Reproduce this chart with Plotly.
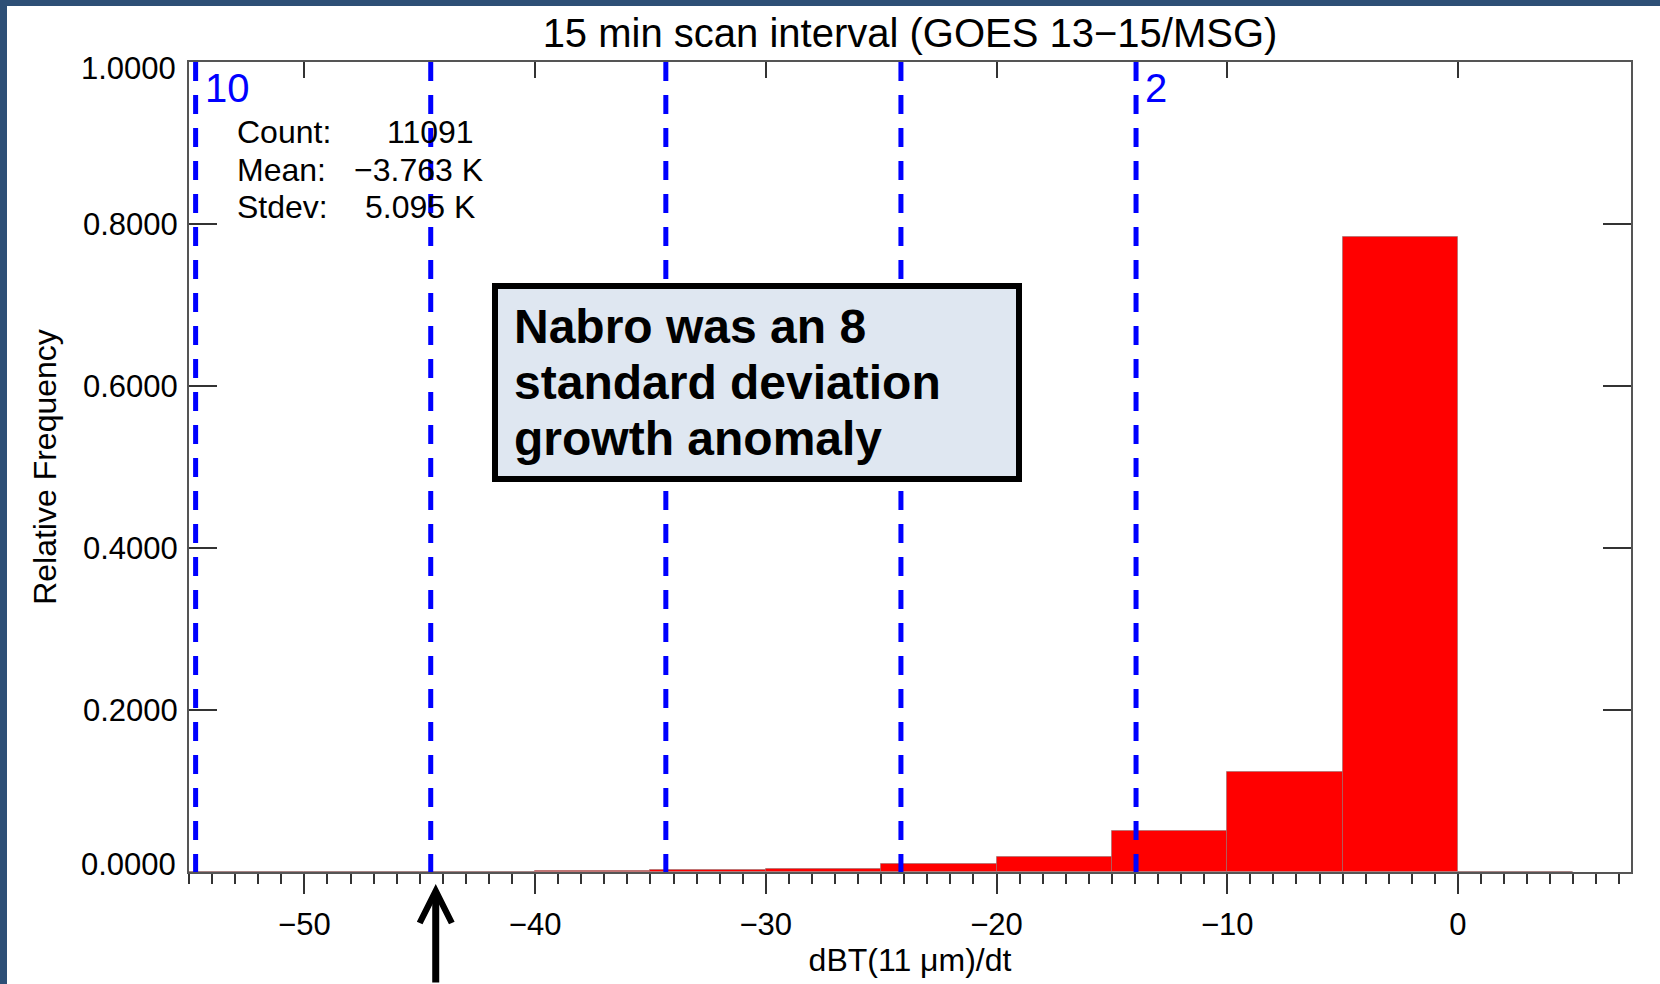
import plotly.graph_objects as go

# ---------------- data ----------------
bin_left = [-55, -50, -45, -40, -35, -30, -25, -20, -15, -10, -5, 0]
rel_freq = [0.0, 0.0003, 0.0005, 0.0012, 0.0022, 0.0042, 0.0100, 0.0185, 0.0512, 0.1240, 0.7840, 0.0002]
bin_width = 5
count = 11091
mean_k = -3.763
stdev_k = 5.095
sigma_levels = [2, 4, 6, 8, 10]
labelled_sigmas = [10, 2]
x_ticks = [-50, -40, -30, -20, -10, 0]
y_ticks = [0.0, 0.2, 0.4, 0.6, 0.8, 1.0]
anomaly_sigma = 8

# ---------------- geometry helpers ----------------
W, H = 1660, 984
L, R, T, B = 189, 29, 62, 112
PW, PH = W - L - R, H - T - B
FONT = "Liberation Sans, Arial, Helvetica, sans-serif"


def px(xp):
    return (xp - L) / PW


def py(yp):
    return (H - B - yp) / PH


fig = go.Figure()

fig.add_trace(go.Bar(
    x=[b + bin_width / 2 for b in bin_left], y=rel_freq, width=bin_width,
    marker=dict(color="#ff0000", line=dict(color="rgba(150,110,110,0.6)", width=1)),
    showlegend=False, hoverinfo="x+y",
))

sigma_x = [mean_k - n * stdev_k for n in sigma_levels]
for n, xv in zip(sigma_levels, sigma_x):
    fig.add_trace(go.Scatter(
        x=[xv, xv], y=[1, 0], mode="lines", xaxis="x2", yaxis="y",
        line=dict(color="#0000ff", width=5, dash="19px,14px"),
        showlegend=False, hoverinfo="skip",
    ))

annotations = []
for n in labelled_sigmas:
    xv = mean_k - n * stdev_k
    annotations.append(dict(
        x=xv, xref="x", y=py(88), yref="paper", text=str(n), showarrow=False,
        xanchor="left", yanchor="middle", xshift=7,
        font=dict(family=FONT, size=40, color="#0000ff"),
    ))

# end tick labels of the y axis sit slightly inside the frame (as in the original)
y_ticktext = ["" if v in (0.0, 1.0) else f"{v:.4f}" for v in y_ticks]
for v, shift in ((y_ticks[0], 8), (y_ticks[-1], -6)):
    annotations.append(dict(
        x=0, xref="paper", y=v, yref="y", text=f"{v:.4f}", showarrow=False,
        xanchor="right", yanchor="middle", xshift=-11, yshift=shift,
        font=dict(family=FONT, size=31, color="black"),
    ))

stat_labels = ["Count:", "Mean:", "Stdev:"]
stat_values = [f"{count:d}", f"{mean_k:.3f} K".replace("-", "\u2212"), f"{stdev_k:.3f} K"]
stat_val_x = [387, 354, 365]
stat_y = [132, 170, 207]
for lab, val, vx, sy in zip(stat_labels, stat_values, stat_val_x, stat_y):
    annotations.append(dict(x=px(235), xref="paper", y=py(sy), yref="paper", text=lab,
                            showarrow=False, xanchor="left", yanchor="middle",
                            font=dict(family=FONT, size=32, color="black")))
    annotations.append(dict(x=px(vx - 2), xref="paper", y=py(sy), yref="paper", text=val,
                            showarrow=False, xanchor="left", yanchor="middle",
                            font=dict(family=FONT, size=32, color="black")))

box_lines = ["Nabro was an 8", "standard deviation", "growth anomaly"]
box_y = [326, 382, 438]
for txt, by in zip(box_lines, box_y):
    annotations.append(dict(x=px(512), xref="paper", y=py(by), yref="paper",
                            text=f"<b>{txt}</b>", showarrow=False,
                            xanchor="left", yanchor="middle",
                            font=dict(family=FONT, size=48, color="black")))

# arrow pointing at the anomaly (8 sigma)
annotations.append(dict(
    x=mean_k - anomaly_sigma * stdev_k, xref="x", y=py(884), yref="paper",
    text="", showarrow=True, arrowhead=5, arrowsize=0.9, arrowwidth=7,
    arrowcolor="black", ax=0, ay=115, axref="pixel", ayref="pixel", standoff=0,
    xshift=5,
))

shapes = [
    dict(type="rect", xref="paper", yref="paper", x0=px(7), x1=px(W + 5), y0=py(H + 5), y1=py(6),
         fillcolor="white", line=dict(width=0), layer="below"),
    dict(type="rect", xref="paper", yref="paper", x0=px(495), x1=px(1019), y0=py(479), y1=py(286),
         fillcolor="#dfe7f1", line=dict(color="black", width=6), layer="above"),
]

axis_common = dict(showgrid=False, zeroline=False, showline=True, linecolor="#555555", linewidth=2)

fig.update_layout(
    width=W, height=H,
    margin=dict(l=L, r=R, t=T, b=B, autoexpand=False),
    paper_bgcolor="#2d4f76", plot_bgcolor="white",
    bargap=0,
    font=dict(family=FONT, color="black"),
    title=dict(text="15 min scan interval (GOES 13\u221215/MSG)", x=px(910), xref="paper", xanchor="center",
               y=1 - 33 / H, yref="container", yanchor="middle",
               font=dict(family=FONT, size=40, color="black")),
    xaxis=dict(range=[-55, 7.5], tickvals=x_ticks, ticks="outside", ticklen=20, tickwidth=1.5,
               tickcolor="#333333", mirror=True, ticklabelstandoff=4,
               minor=dict(tickmode="linear", tick0=0, dtick=1, ticks="outside", ticklen=10,
                          tickwidth=1.5, tickcolor="#333333"),
               tickfont=dict(family=FONT, size=31, color="black"),
               title=dict(text="dBT(11 \u03bcm)/dt", font=dict(family=FONT, size=32, color="black"), standoff=4),
               **axis_common),
    xaxis2=dict(matches="x", overlaying="x", side="top", tickvals=x_ticks, ticks="inside", ticklen=16,
                tickwidth=1.5, tickcolor="#333333", showticklabels=False, showgrid=False, zeroline=False,
                showline=False),
    yaxis=dict(range=[0, 1], tickvals=y_ticks, ticktext=y_ticktext, ticks="inside", ticklen=28, tickwidth=1.5,
               tickcolor="#333333", mirror="ticks", ticklabelstandoff=3,
               tickfont=dict(family=FONT, size=31, color="black"),
               title=dict(text="Relative Frequency", font=dict(family=FONT, size=32, color="black"), standoff=17),
               **axis_common),
    annotations=annotations,
    shapes=shapes,
)

fig.write_html("out.html", config={"displayModeBar": False},
               post_script="document.body.style.margin='0';document.body.style.overflow='hidden';")
